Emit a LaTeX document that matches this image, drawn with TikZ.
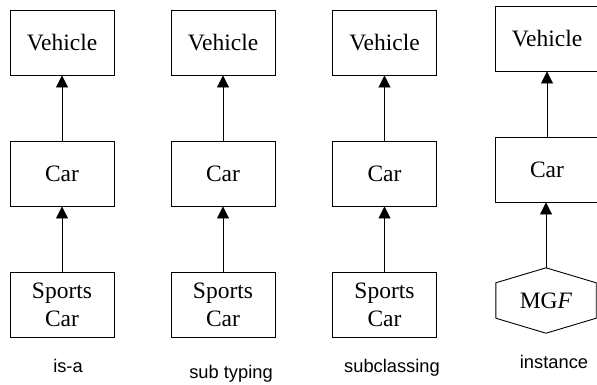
\documentclass[tikz,border=0pt]{standalone}
\usepackage{fontspec}
\setmainfont{Liberation Serif}
\setsansfont{Liberation Sans}
\usetikzlibrary{arrows.meta}
\tikzset{
  cls/.style={draw, line width=0.9pt, minimum width=104pt, minimum height=65pt, inner sep=0pt, align=center, font=\fontsize{23.5}{28}\selectfont},
  inst/.style={minimum width=100pt, minimum height=65pt, inner sep=0pt, font=\fontsize{23.5}{28}\selectfont},
  isa/.style={line width=0.9pt, -{Triangle[length=12pt,width=12pt]}},
  lbl/.style={anchor=base, font=\sffamily\fontsize{18.3}{21}\selectfont, inner sep=0pt}
}
\begin{document}
\begin{tikzpicture}[x=1pt,y=-1pt]
\useasboundingbox (0,0) rectangle (597,384);
% column 1
\node[cls] (v1) at (62,42.5) {Vehicle};
\node[cls] (c1) at (62,173.5) {Car};
\node[cls] (s1) at (62,304.5) {Sports\\Car};
\draw[isa] (c1.north) -- (v1.south);
\draw[isa] (s1.north) -- (c1.south);
\node[lbl] (l1) at (68,372.5) {is-a};
% column 2
\node[cls] (v2) at (223,42.5) {Vehicle};
\node[cls] (c2) at (223,173.5) {Car};
\node[cls] (s2) at (223,304.5) {Sports\\Car};
\draw[isa] (c2.north) -- (v2.south);
\draw[isa] (s2.north) -- (c2.south);
\node[lbl] (l2) at (231,378) {sub typing};
% column 3
\node[cls] (v3) at (384.5,42.5) {Vehicle};
\node[cls] (c3) at (384.5,173.5) {Car};
\node[cls] (s3) at (384.5,304.5) {Sports\\Car};
\draw[isa] (c3.north) -- (v3.south);
\draw[isa] (s3.north) -- (c3.south);
\node[lbl] (l3) at (392,372.5) {subclassing};
% column 4
\node[cls] (v4) at (547,38.5) {Vehicle};
\node[cls] (c4) at (547,169.5) {Car};
\node[inst] (m4) at (546,300.5) {MG\textit{F}};
\draw[line width=0.9pt] (m4.north) -- ([yshift=-15pt]m4.north east) -- ([yshift=15pt]m4.south east)
  -- (m4.south) -- ([yshift=15pt]m4.south west) -- ([yshift=-15pt]m4.north west) -- cycle;
\draw[isa] (m4.north) -- (m4.north |- c4.south);
\draw[isa] (c4.north) -- (v4.south);
\node[lbl] (l4) at (554,368) {instance};
\end{tikzpicture}
\end{document}
